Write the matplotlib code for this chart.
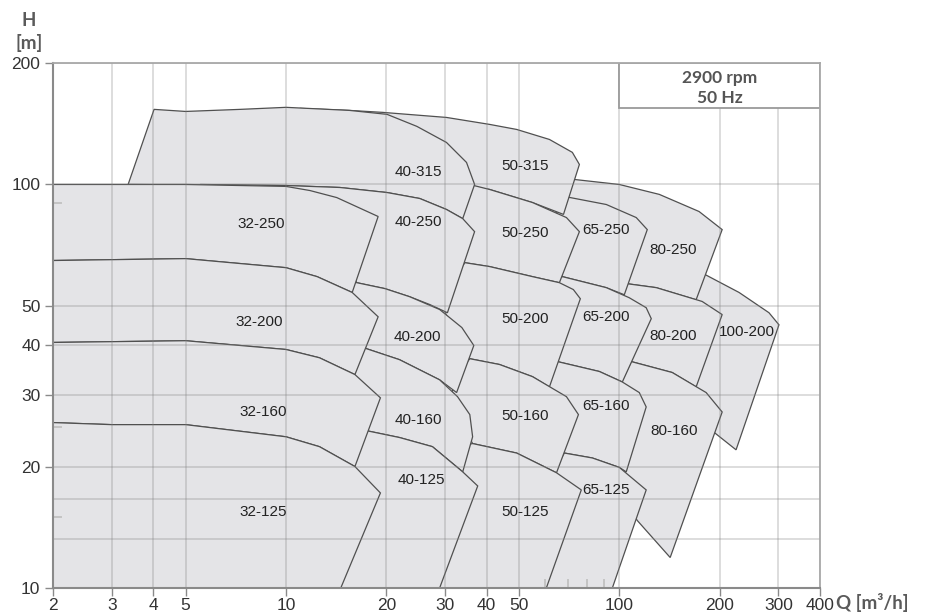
import matplotlib.pyplot as plt

# pump ranges, 2900 rpm: outline vertices (Q [m3/h], H [m])
t100_200 = [(180.9, 59.8), (228.7, 54.0), (281.2, 48.1), (301.3, 44.9), (224, 22.0),
            (192.5, 24.3), (173.5, 26.1), (162, 46.2), (173.5, 59.8)]

t80_250 = [(66.1, 104.1), (73.3, 102.9), (100, 100), (131.8, 94.5), (173.5, 85.7), (203.5, 77.3),
           (170, 51.8), (129.1, 55.5), (104.9, 56.8), (100, 61.5), (87.1, 84.3), (66.1, 89.2)]
t80_200 = [(104.9, 56.8), (129.1, 55.5), (177.2, 51.3), (203.5, 47.6), (170, 31.5),
           (144.1, 34.2), (108.6, 36.4), (103.5, 39.0), (96.6, 51.8)]
t80_160 = [(108.6, 36.4), (144.1, 34.2), (182.2, 30.5), (203.5, 27.3), (142.1, 11.9),
           (113.2, 14.7), (103.5, 16.5), (96.6, 19.6), (100.7, 31.9)]

t65_250 = [(68.4, 93.4), (91.4, 89.2), (112.4, 82.8), (121.3, 77.3), (103.5, 53.3),
           (91.4, 55.5), (67.5, 59.1), (63.9, 65.2), (65.2, 91.6)]
t65_200 = [(67.5, 59.1), (91.4, 55.5), (107.1, 52.4), (120.4, 49.5), (124.7, 46.5), (102.1, 32.4),
           (87.1, 34.4), (65.2, 36.4), (59.6, 36.8), (60.9, 56.5)]
t65_160 = [(65.2, 36.4), (87.1, 34.4), (102.1, 32.4), (114.8, 30.5), (120.4, 28.1), (104.9, 19.4),
           (100, 19.9), (83.0, 21.0), (68.4, 21.6), (60.9, 22.0), (59.6, 34.7)]
t65_125 = [(68.4, 21.6), (83.0, 21.0), (100, 19.9), (120.4, 17.5), (95.3, 10), (53.8, 10),
           (63.9, 19.6)]

t50_315 = [(11.0, 154.4), (15.5, 152.6), (19.5, 150.9), (30.3, 146.6), (40.8, 140.9), (49.2, 136.9),
           (61.7, 129.3), (72.3, 120.1), (75.9, 112.1), (68.0, 84.3), (54.9, 90.2), (40.8, 97.2),
           (36.8, 98.3), (33.2, 102.9), (11.0, 136.9)]
t50_250 = [(36.6, 99.4), (40.8, 97.2), (54.9, 90.2), (69.4, 82.8), (75.9, 76.4), (66.1, 57.1),
           (54.9, 59.1), (40.8, 62.6), (34.4, 64.0), (32.1, 69.0), (33.2, 89.2)]
t50_200 = [(34.4, 64.0), (40.8, 62.6), (54.9, 59.1), (66.1, 57.1), (72.8, 54.9), (76.4, 52.1),
           (61.7, 31.5), (54.9, 33.4), (43.7, 35.8), (35.6, 37.0), (32.1, 42.5), (28.9, 51.8)]
t50_160 = [(35.6, 37.0), (43.7, 35.8), (54.9, 33.4), (69.4, 29.8), (75.4, 26.9), (64.8, 19.3),
           (49.2, 21.6), (36.3, 22.8), (34.4, 24.7), (31.0, 29.3), (32.7, 33.8)]
t50_125 = [(36.3, 22.8), (49.2, 21.6), (64.8, 19.3), (76.9, 17.5), (60.4, 10), (27.0, 10),
           (35.1, 18.5), (32.1, 20.8), (34.4, 22.6)]

t40_315 = [(3.36, 100), (4.02, 153.5), (5, 151.7), (7.28, 153.5), (10, 155.3), (15.5, 152.6),
           (20.1, 149.2), (24.7, 139.3), (30.3, 127.1), (34.8, 113.4), (36.8, 100), (33.9, 82.3),
           (30.3, 86.7), (25.2, 92.3), (20.1, 95.5), (14.5, 98.3), (10, 99.4)]
t40_250 = [(5.53, 100), (10, 99.4), (14.5, 98.3), (20.1, 95.5), (25.2, 92.3), (30.3, 86.7),
           (33.9, 82.3), (36.8, 76.4), (30.5, 48.1), (27.0, 50.4), (23.5, 52.7), (19.8, 55.2),
           (16.3, 57.1), (15.0, 65.2), (5.53, 77.3)]
t40_200 = [(15.0, 58.1), (16.3, 57.1), (19.8, 55.2), (23.5, 52.7), (28.9, 49.0), (33.7, 44.2),
           (36.6, 39.9), (32.5, 30.5), (28.9, 32.8), (21.9, 36.8), (17.4, 39.2), (15.0, 46.2)]
t40_160 = [(15.5, 39.9), (17.4, 39.2), (21.9, 36.8), (28.9, 32.8), (32.7, 29.8), (35.6, 26.9),
           (36.3, 23.7), (33.9, 19.4), (27.5, 22.4), (21.9, 23.6), (17.6, 24.5), (15.5, 26.1)]
t40_125 = [(15.5, 24.9), (17.6, 24.5), (21.9, 23.6), (27.5, 22.4), (33.9, 19.4), (37.6, 17.9),
           (28.9, 10), (13.5, 10)]

t32_250 = [(2, 100), (5, 100), (10, 98.9), (11.8, 96.6), (14.2, 92.8), (18.9, 83.3),
           (15.8, 54.0), (12.4, 59.1), (10, 62.2), (5, 65.5), (2, 64.8)]
t32_200 = [(2, 64.8), (5, 65.5), (10, 62.2), (12.4, 59.1), (15.8, 54.0), (18.9, 47.0),
           (16.1, 33.8), (12.6, 37.2), (10, 39.0), (5, 41.0), (2, 40.6)]
t32_160 = [(2, 40.6), (5, 41.0), (10, 39.0), (12.6, 37.2), (16.1, 33.8), (19.2, 29.6),
           (16.1, 20.0), (12.6, 22.4), (10, 23.7), (5, 25.4), (3, 25.4), (2, 25.7)]
t32_125 = [(2, 25.7), (3, 25.4), (5, 25.4), (10, 23.7), (12.6, 22.4), (16.1, 20.0), (19.2, 17.2),
           (14.6, 10), (2, 10)]

# drawn right to left so each smaller pump hides the hidden edges of the next size
tiles = [
    ('100-200', t100_200),
    ('80-250', t80_250), ('80-200', t80_200), ('80-160', t80_160),
    ('65-250', t65_250), ('65-200', t65_200), ('65-160', t65_160), ('65-125', t65_125),
    ('50-315', t50_315), ('50-250', t50_250), ('50-200', t50_200), ('50-160', t50_160),
    ('50-125', t50_125),
    ('40-315', t40_315), ('40-250', t40_250), ('40-200', t40_200), ('40-160', t40_160),
    ('40-125', t40_125),
    ('32-250', t32_250), ('32-200', t32_200), ('32-160', t32_160), ('32-125', t32_125),
]

# where each type name sits (Q, H)
label_at = {
    '32-250': (8.42, 79.6), '32-200': (8.30, 45.5), '32-160': (8.53, 27.3), '32-125': (8.53, 15.4),
    '40-315': (25.0, 107.1), '40-250': (25.0, 80.5), '40-200': (24.8, 42.0), '40-160': (25.0, 26.1),
    '40-125': (25.4, 18.5),
    '50-315': (52.3, 111.4), '50-250': (52.3, 76.0), '50-200': (52.3, 46.5), '50-160': (52.3, 26.7),
    '50-125': (52.3, 15.4),
    '65-250': (91.4, 77.3), '65-200': (91.4, 47.0), '65-160': (91.4, 28.3), '65-125': (91.4, 17.5),
    '80-250': (145.1, 69.0), '80-200': (145.1, 42.2), '80-160': (146.1, 24.5),
    '100-200': (241.6, 43.2),
}

q_ticks = [2, 3, 4, 5, 10, 20, 30, 40, 50, 100, 200, 300, 400]
h_ticks = [10, 20, 30, 40, 50, 100, 200]
h_extra_grid = [13.2, 16.6]
h_inner_ticks = [15, 25, 90]
q_inner_ticks = [60, 70, 80, 90]

sans = ['Liberation Sans', 'DejaVu Sans']
bold = ['Lato', 'DejaVu Sans']

fig = plt.figure(figsize=(9.27, 6.13), dpi=100)
ax = fig.add_axes([53 / 927, 25 / 613, 767 / 927, 525 / 613])
ax.set_xscale('log')
ax.set_yscale('log')
ax.set_xlim(2, 400)
ax.set_ylim(10, 200)

for name, pts in tiles:
    q = [p[0] for p in pts]
    h = [p[1] for p in pts]
    ax.fill(q, h, facecolor='#e4e4e7', edgecolor='#505050', linewidth=0.9, zorder=1)
    lq, lh = label_at[name]
    ax.text(lq, lh, name, ha='center', va='center', fontsize=11, family=sans,
            color='#222222', zorder=4)

# grid darkens whatever is below it
for q in q_ticks:
    ax.axvline(q, color='#808080', alpha=0.35, lw=1.1, zorder=2)
for h in h_ticks + h_extra_grid:
    ax.axhline(h, color='#808080', alpha=0.35, lw=1.1, zorder=2)

# short inner marks
yt = ax.get_yaxis_transform()
for h in h_inner_ticks:
    ax.plot([0, 0.011], [h, h], transform=yt, color='#c4c4c4', lw=1.4, zorder=2, clip_on=False)
xt = ax.get_xaxis_transform()
for q in q_inner_ticks:
    ax.plot([q, q], [0, 0.016], transform=xt, color='#c4c4c4', lw=1.4, zorder=2, clip_on=False)

# speed box in the upper right corner
ax.fill([100, 400, 400, 100], [155, 155, 200, 200], facecolor='white',
        edgecolor='#9a9a9a', linewidth=1.3, zorder=3)
ax.text(200, 184, '2900 rpm', ha='center', va='center', fontsize=12.5,
        fontweight='bold', family=bold, color='#555555', zorder=4)
ax.text(200, 163.5, '50 Hz', ha='center', va='center', fontsize=12.5,
        fontweight='bold', family=bold, color='#555555', zorder=4)

ax.set_xticks(q_ticks)
ax.set_xticklabels([str(v) for v in q_ticks])
ax.set_yticks(h_ticks)
ax.set_yticklabels([str(v) for v in h_ticks])
ax.minorticks_off()
ax.tick_params(axis='both', direction='out', length=6, width=1, color='#8a8a8a',
               labelcolor='#333333', labelsize=12.5)
ax.tick_params(axis='x', pad=1)
ax.tick_params(axis='y', pad=3)
for lbl in ax.get_xticklabels() + ax.get_yticklabels():
    lbl.set_family(sans)

for side in ['left', 'bottom']:
    ax.spines[side].set_color('#8a8a8a')
    ax.spines[side].set_linewidth(1.5)
for side in ['top', 'right']:
    ax.spines[side].set_color('#a8a8a8')
    ax.spines[side].set_linewidth(1.3)
for s in ax.spines.values():
    s.set_zorder(5)

fig.text(29 / 927, 1 - 20 / 613, 'H', ha='center', va='center', fontsize=13.5,
         fontweight='bold', family=bold, color='#5a5a5a')
fig.text(29 / 927, 1 - 43 / 613, '[m]', ha='center', va='center', fontsize=13.5,
         fontweight='bold', family=bold, color='#5a5a5a')
fig.text(836 / 927, 1 - 603 / 613, 'Q [m³/h]', ha='left', va='center', fontsize=13.5,
         fontweight='bold', family=bold, color='#5a5a5a')

fig.savefig('out.png', dpi=100)
